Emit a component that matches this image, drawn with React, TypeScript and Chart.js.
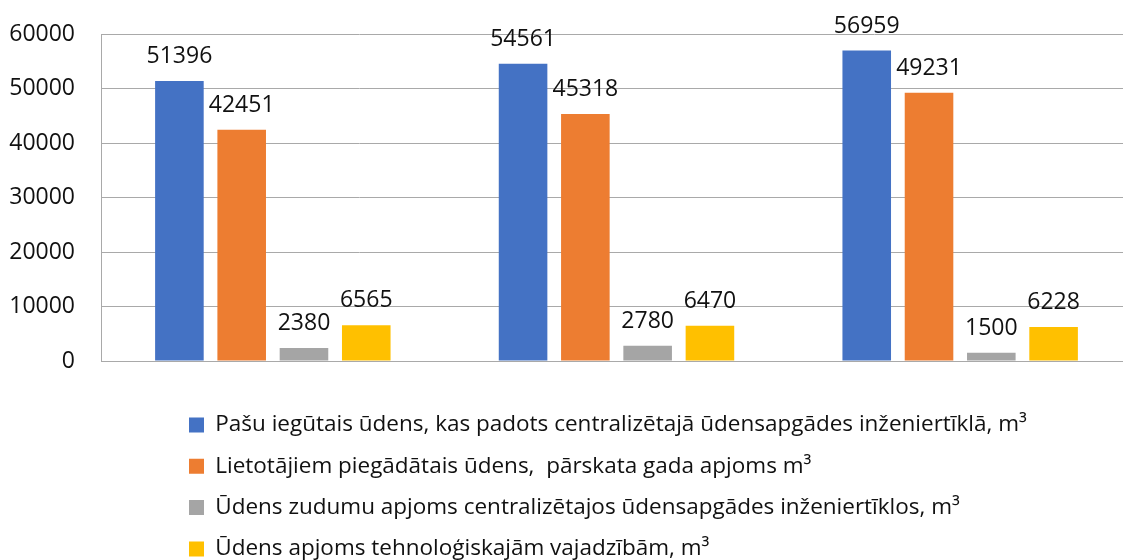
import React, { useEffect, useRef } from 'react';
import { Chart, registerables } from 'chart.js';

Chart.register(...registerables);

// ---- data ----
const categories: string[] = ['', '', ''];
const seriesNames: string[] = [
  'Pašu iegūtais ūdens, kas padots centralizētajā ūdensapgādes inženiertīklā, m³',
  'Lietotājiem piegādātais ūdens,  pārskata gada apjoms m³',
  'Ūdens zudumu apjoms centralizētajos ūdensapgādes inženiertīklos, m³',
  'Ūdens apjoms tehnoloģiskajām vajadzībām, m³',
];
const pasuIegutais: number[] = [51396, 54561, 56959];
const lietotajiemPiegadatais: number[] = [42451, 45318, 49231];
const zudumuApjoms: number[] = [2380, 2780, 1500];
const tehnologiskajam: number[] = [6565, 6470, 6228];
const yMin = 0;
const yMax = 60000;
const yStep = 10000;

const colors = ['#4472C4', '#ED7D31', '#A5A5A5', '#FFC000'];
const FONT = "'Open Sans', Lato, sans-serif";
const GRID = '#a9a9a9';
const LEGEND_SIZE = 22.5;

const AREA_TOP = 34;
const AREA_BOTTOM = 361;

const dataLabels = {
  id: 'dataLabels',
  afterDatasetsDraw(chart: any) {
    const ctx = chart.ctx;
    ctx.save();
    ctx.font = `23px ${FONT}`;
    ctx.fillStyle = '#111111';
    ctx.textAlign = 'center';
    ctx.textBaseline = 'alphabetic';
    chart.data.datasets.forEach((ds: any, i: number) => {
      const meta = chart.getDatasetMeta(i);
      meta.data.forEach((bar: any, j: number) => {
        ctx.fillText(String(ds.data[j]), bar.x, bar.y - 18);
      });
    });
    ctx.restore();
  },
};

const legendShift = {
  id: 'legendShift',
  afterLayout(chart: any) {
    const lg = chart.legend;
    if (!lg) return;
    const dx = 189 - (lg.left + lg.options.labels.padding);
    const dy = 425 - (lg.top + lg.options.labels.padding + LEGEND_SIZE / 2);
    lg.left += dx;
    lg.right += dx;
    lg.top += dy;
    lg.bottom += dy;
  },
};

export default function App() {
  const ref = useRef<HTMLCanvasElement | null>(null);
  useEffect(() => {
    if (!ref.current) return;
    let xHeight = 14.5;
    const chart = new Chart(ref.current, {
      type: 'bar',
      data: {
        labels: categories,
        datasets: [pasuIegutais, lietotajiemPiegadatais, zudumuApjoms, tehnologiskajam].map((d, i) => ({
          label: seriesNames[i],
          data: d,
          backgroundColor: colors[i],
          borderWidth: 0,
          categoryPercentage: 0.725,
          barPercentage: 0.78,
        })),
      },
      options: {
        animation: false,
        responsive: true,
        maintainAspectRatio: false,
        layout: { padding: { top: AREA_TOP, left: 0, right: 0, bottom: 0 } },
        plugins: {
          tooltip: { enabled: false },
          legend: {
            position: 'bottom',
            align: 'start',
            labels: {
              boxWidth: 15,
              boxHeight: 15,
              padding: 41.3 - LEGEND_SIZE,
              color: '#111111',
              font: { family: FONT, size: LEGEND_SIZE },
            },
          },
        },
        scales: {
          x: {
            grid: { display: false },
            border: { display: true, color: GRID, width: 1 },
            ticks: { display: false },
            afterFit(scale: any) {
              scale.height = xHeight;
              scale.paddingTop = 0;
              scale.paddingBottom = 0;
            },
          },
          y: {
            min: yMin,
            max: yMax,
            ticks: {
              stepSize: yStep,
              padding: 26,
              color: '#111111',
              font: { family: FONT, size: 23 },
              callback: (v: any) => String(v),
            },
            grid: { color: GRID, lineWidth: 1, drawTicks: false },
            border: { display: true, color: GRID, width: 1 },
            afterFit(scale: any) {
              scale.width = 101;
              scale.paddingTop = 0;
              scale.paddingBottom = 0;
            },
          },
        },
      },
      plugins: [dataLabels, legendShift],
    });
    // correct the plot area to the reference position
    const ca = chart.chartArea;
    if (ca) {
      const pad: any = (chart.options as any).layout.padding;
      pad.top = Math.max(0, AREA_TOP + (AREA_TOP - ca.top));
      xHeight = Math.max(0, xHeight + (ca.bottom - AREA_BOTTOM));
      chart.update();
    }
    return () => chart.destroy();
  }, []);

  return (
    <div style={{ position: 'fixed', left: 0, top: 0, width: 1123, height: 560, overflow: 'hidden', background: '#fff' }}>
      <div style={{ position: 'relative', width: 1132, height: 560 }}>
        <canvas ref={ref} />
      </div>
    </div>
  );
}
